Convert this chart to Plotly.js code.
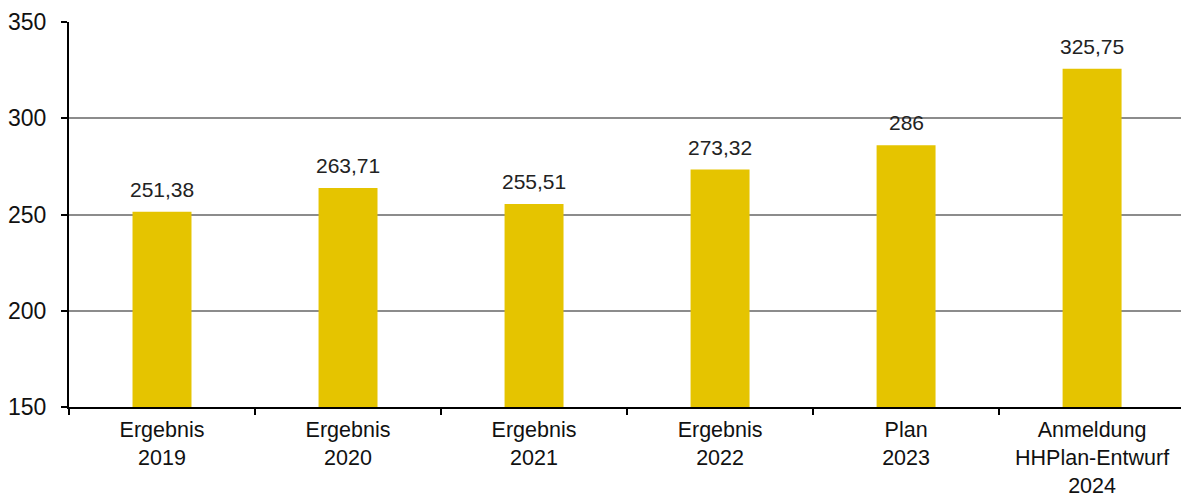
<!DOCTYPE html>
<html>
<head>
<meta charset="utf-8">
<script src="https://cdn.plot.ly/plotly-3.0.1.min.js"></script>
<style>html,body{margin:0;padding:0;background:#fff;}#chart{width:1181px;height:500px;}</style>
</head>
<body>
<div id="chart"></div>
<script>
const categories = ["Ergebnis<br>2019", "Ergebnis<br>2020", "Ergebnis<br>2021", "Ergebnis<br>2022", "Plan<br>2023", "Anmeldung<br>HHPlan-Entwurf<br>2024"];
const values = [251.38, 263.71, 255.51, 273.32, 286, 325.75];
const labels = values.map(v => String(v).replace('.', ','));

const font = "Liberation Sans, Arial, sans-serif";
const trace = {
  type: 'bar',
  x: categories,
  y: values,
  marker: {color: '#E5C400'},
  hoverinfo: 'skip'
};
const annotations = categories.map((c, i) => ({
  x: c, y: values[i], xref: 'x', yref: 'y',
  text: labels[i], showarrow: false,
  yanchor: 'bottom', yshift: 9,
  font: {family: font, size: 21, color: '#222'}
}));
const layout = {
  width: 1181, height: 500,
  margin: {l: 69, r: 0, t: 22, b: 93},
  paper_bgcolor: '#fff', plot_bgcolor: '#fff',
  bargap: 0.683,
  showlegend: false,
  font: {family: font, color: '#111'},
  xaxis: {
    type: 'category',
    range: [-0.5, 5.478],
    showline: true, linecolor: '#000', linewidth: 2,
    ticks: 'outside', tickson: 'boundaries', ticklen: 6, tickwidth: 2, tickcolor: '#000',
    showgrid: false, zeroline: false,
    tickfont: {family: font, size: 21.5, color: '#111'},
    ticklabelstandoff: 2
  },
  yaxis: {
    range: [150, 350], dtick: 50, tick0: 150,
    showline: true, linecolor: '#000', linewidth: 2,
    ticks: 'outside', ticklen: 6, tickwidth: 2, tickcolor: '#000',
    showgrid: true, gridcolor: '#8c8c8c', gridwidth: 2,
    zeroline: false,
    tickfont: {family: font, size: 23, color: '#111'},
    ticklabelstandoff: 10
  },
  annotations: annotations
};
Plotly.newPlot('chart', [trace], layout, {displayModeBar: false, staticPlot: true});
</script>
</body>
</html>
